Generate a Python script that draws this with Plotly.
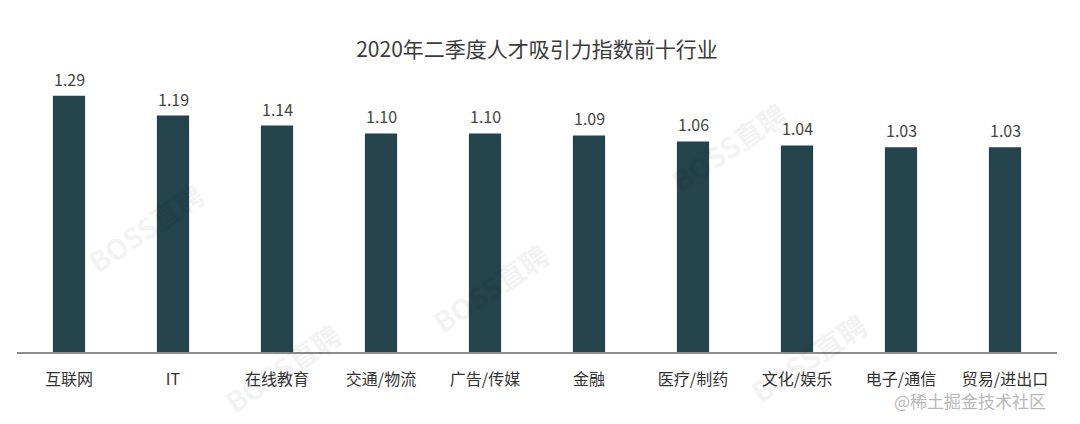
"""2020年二季度人才吸引力指数前十行业 — 柱状图复刻."""

import plotly.graph_objects as go

# 行业与指数
industries = ["互联网", "IT", "在线教育", "交通/物流", "广告/传媒",
              "金融", "医疗/制药", "文化/娱乐", "电子/通信", "贸易/进出口"]
index_values = [1.29, 1.19, 1.14, 1.10, 1.10, 1.09, 1.06, 1.04, 1.03, 1.03]
value_labels = ["1.29", "1.19", "1.14", "1.10", "1.10", "1.09", "1.06", "1.04", "1.03", "1.03"]

TITLE = "2020年二季度人才吸引力指数前十行业"
BAR_COLOR = "#25434d"
FONT = "Noto Sans CJK SC, Noto Sans, sans-serif"

# 绘图区边距（像素）
L, R, T, B = 17, 23, 54, 72
pw, ph = 1080 - L - R, 424 - T - B


def paper(px, py):
    """页面像素 -> paper 坐标."""
    return (px - L) / pw, (424 - B - py) / ph


fig = go.Figure(go.Bar(
    x=industries,
    y=index_values,
    marker=dict(color=BAR_COLOR, line=dict(width=0)),
    width=0.31,
    hoverinfo="x+y",
))

# 柱顶数值
annotations = [
    dict(x=cat, y=val, text=lab, xref="x", yref="y", showarrow=False,
         yanchor="bottom", yshift=3,
         font=dict(size=16, color="#444444", family=FONT))
    for cat, val, lab in zip(industries, index_values, value_labels)
]

# 水印（浅灰、斜排）
for wx, wy in [(145, 228), (490, 288), (728, 147), (808, 358), (282, 368)]:
    ax, ay = paper(wx, wy)
    annotations.append(dict(
        text="<b>BOSS直聘</b>", x=ax, y=ay, xref="paper", yref="paper",
        xanchor="center", yanchor="middle", showarrow=False,
        textangle=-34, opacity=0.045,
        font=dict(size=28, color="#000000", family=FONT)))

sx, sy = paper(1048, 400)
annotations.append(dict(
    text="@稀土掘金技术社区", x=sx, y=sy, xref="paper", yref="paper",
    xanchor="right", yanchor="middle", showarrow=False,
    font=dict(size=17, color="#b8b8b8", family=FONT),
))

fig.update_layout(
    width=1080, height=424,
    title=dict(text=TITLE, x=0.5, xref="paper", y=1 - 50 / 424, yanchor="middle",
               font=dict(size=21, color="#3c3c3c", family=FONT)),
    margin=dict(l=L, r=R, t=T, b=B),
    paper_bgcolor="white",
    plot_bgcolor="white",
    showlegend=False,
    annotations=annotations,
    xaxis=dict(
        showline=True, linecolor="#8c8c8c", linewidth=1.5,
        ticks="", ticklabelstandoff=12,
        tickfont=dict(size=16, color="#333333", family=FONT),
        showgrid=False,
    ),
    yaxis=dict(range=[0, 1.5], visible=False, showgrid=False),
)

fig.write_html("out.html", config={"displayModeBar": False},
               post_script="document.body.style.margin='0';")
